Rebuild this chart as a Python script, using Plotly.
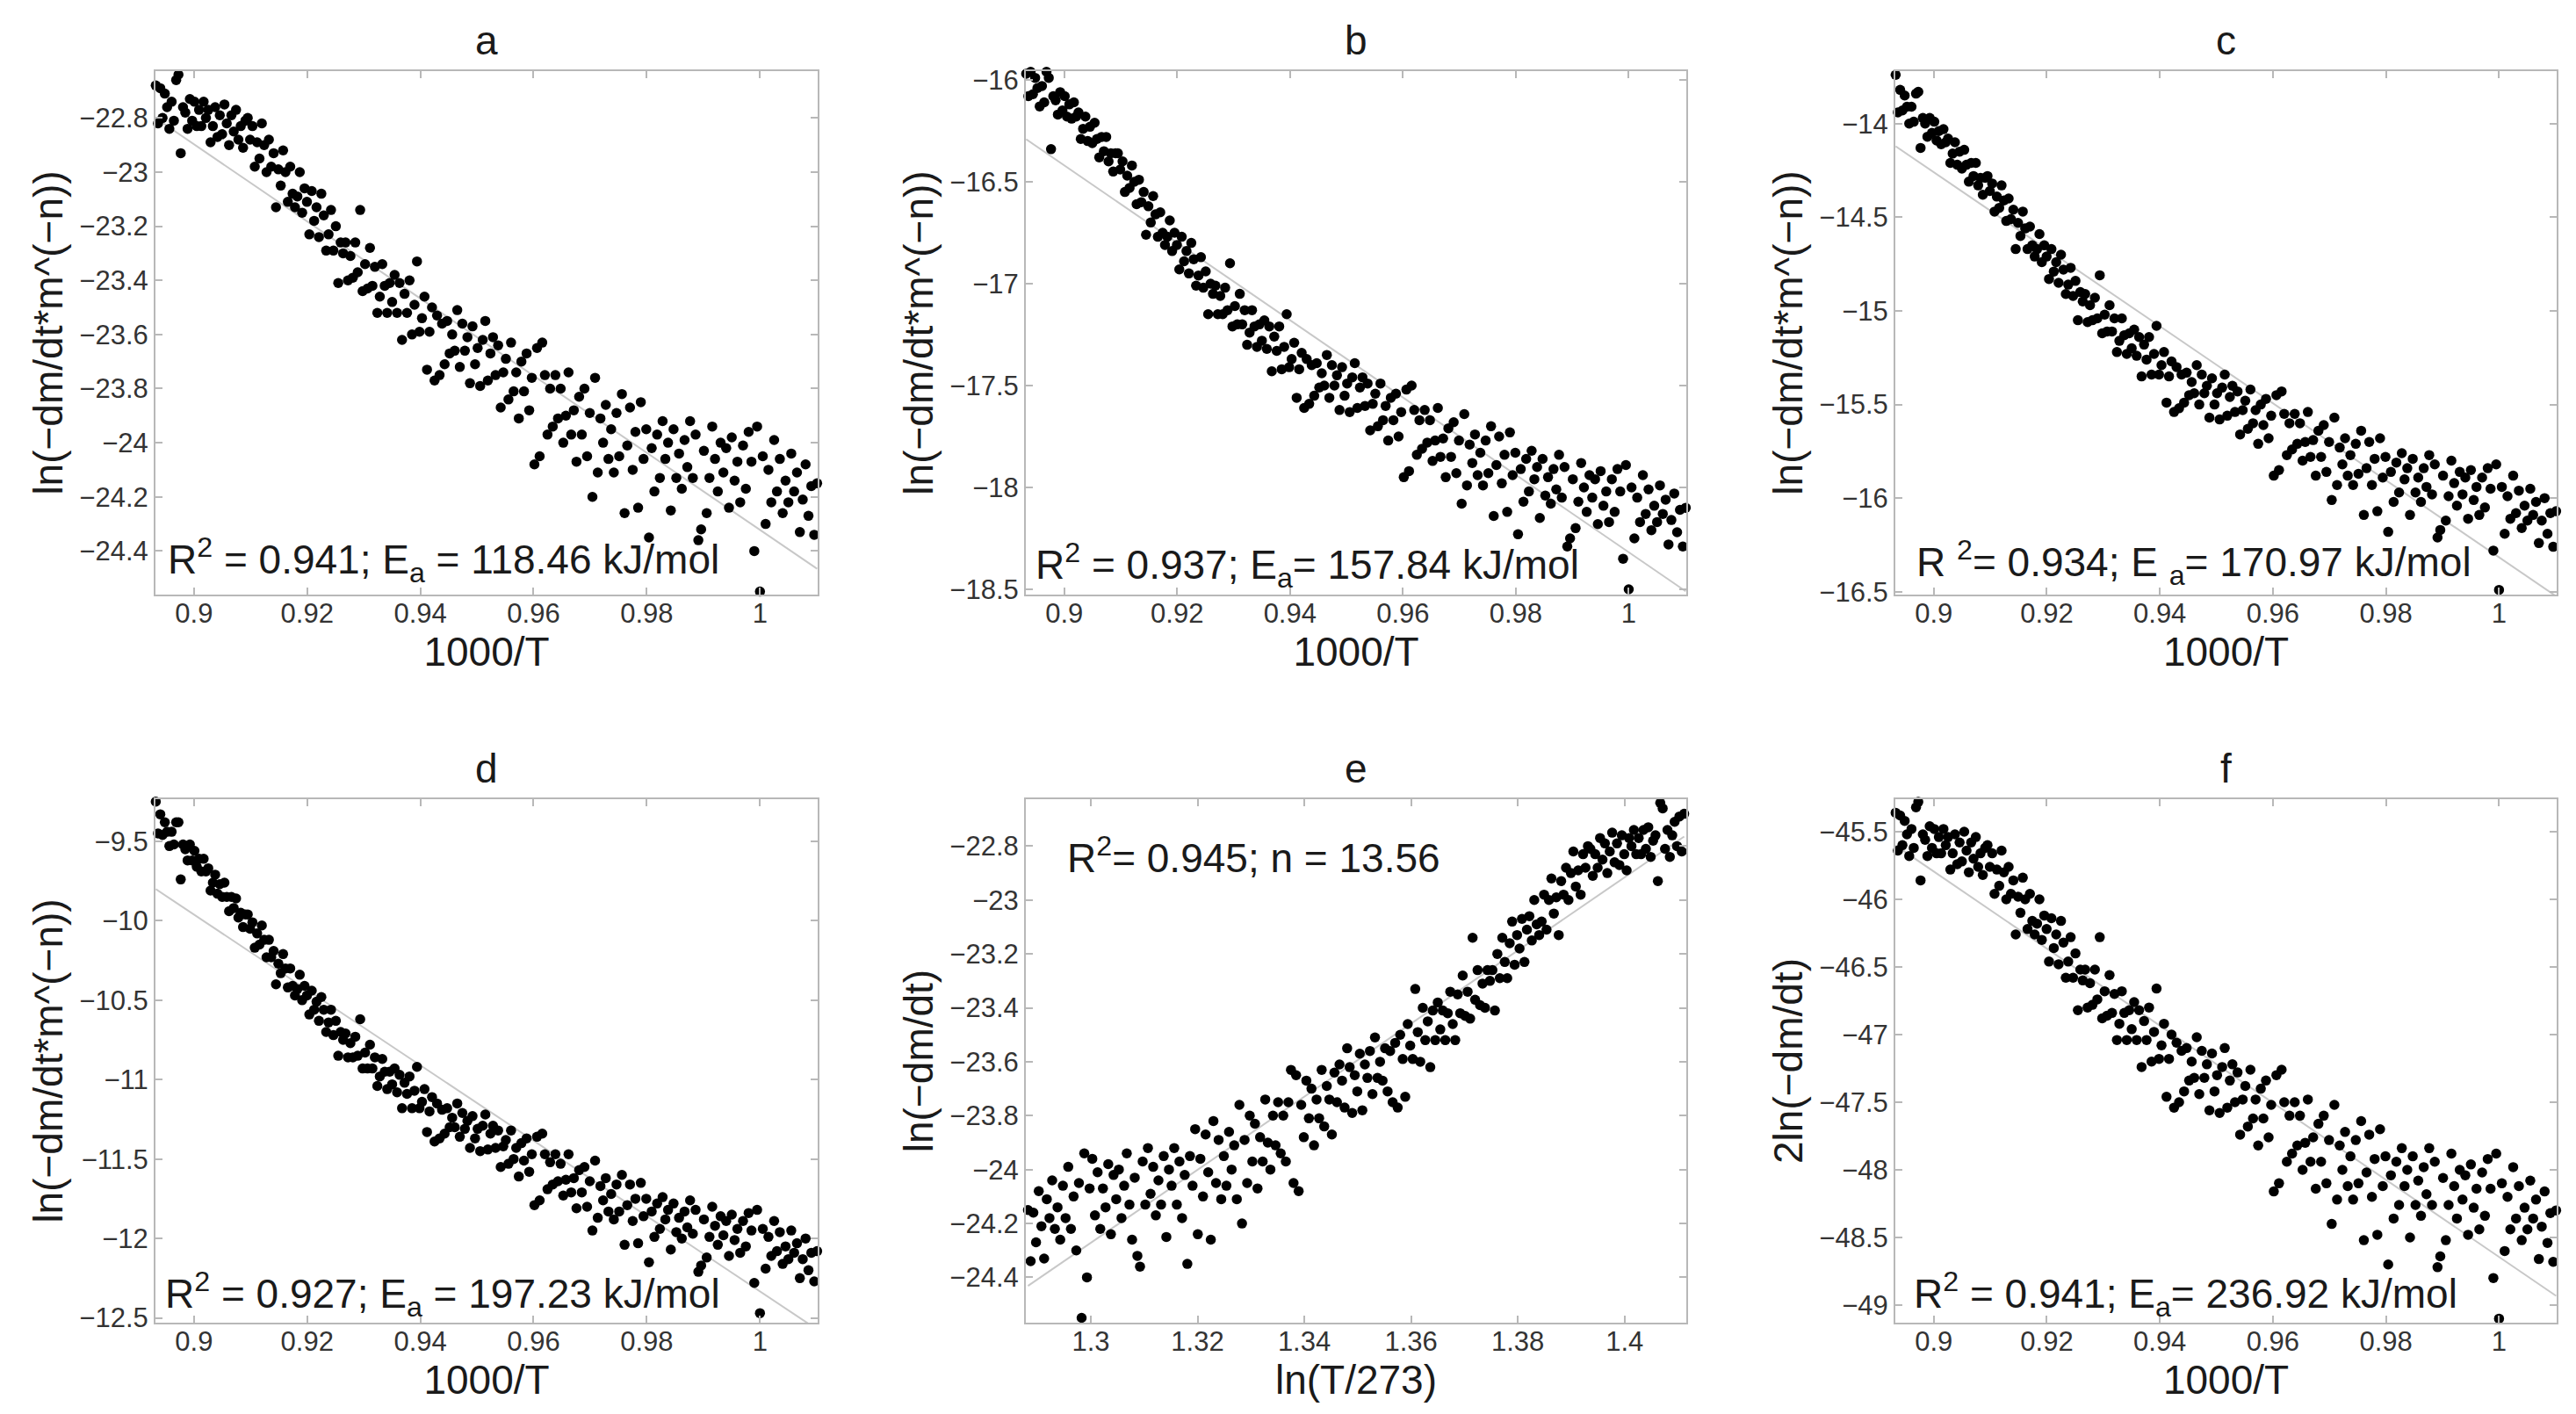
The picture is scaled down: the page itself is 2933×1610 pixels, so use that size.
import math
import plotly.graph_objects as go

# ---------------- data ----------------
temperature_K = [
    990.0, 990.5, 991.0, 991.5, 992.0, 992.5, 993.0, 993.5, 994.0, 994.5, 995.0, 995.5, 996.0, 996.5, 997.0, 997.5, 998.0, 998.5, 999.0, 999.5,
    1000.0, 1000.5, 1001.0, 1001.5, 1002.0, 1002.5, 1003.0, 1003.5, 1004.0, 1004.5, 1005.0, 1005.5, 1006.0, 1006.5, 1007.0, 1007.5, 1008.0, 1008.5, 1009.0, 1009.5,
    1010.0, 1010.5, 1011.0, 1011.5, 1012.0, 1012.5, 1013.0, 1013.5, 1014.0, 1014.5, 1015.0, 1015.5, 1016.0, 1016.5, 1017.0, 1017.5, 1018.0, 1018.5, 1019.0, 1019.5,
    1020.0, 1020.5, 1021.0, 1021.5, 1022.0, 1022.5, 1023.0, 1023.5, 1024.0, 1024.5, 1025.0, 1025.5, 1026.0, 1026.5, 1027.0, 1027.5, 1028.0, 1028.5, 1029.0, 1029.5,
    1030.0, 1030.5, 1031.0, 1031.5, 1032.0, 1032.5, 1033.0, 1033.5, 1034.0, 1034.5, 1035.0, 1035.5, 1036.0, 1036.5, 1037.0, 1037.5, 1038.0, 1038.5, 1039.0, 1039.5,
    1040.0, 1040.5, 1041.0, 1041.5, 1042.0, 1042.5, 1043.0, 1043.5, 1044.0, 1044.5, 1045.0, 1045.5, 1046.0, 1046.5, 1047.0, 1047.5, 1048.0, 1048.5, 1049.0, 1049.5,
    1050.0, 1050.5, 1051.0, 1051.5, 1052.0, 1052.5, 1053.0, 1053.5, 1054.0, 1054.5, 1055.0, 1055.5, 1056.0, 1056.5, 1057.0, 1057.5, 1058.0, 1058.5, 1059.0, 1059.5,
    1060.0, 1060.5, 1061.0, 1061.5, 1062.0, 1062.5, 1063.0, 1063.5, 1064.0, 1064.5, 1065.0, 1065.5, 1066.0, 1066.5, 1067.0, 1067.5, 1068.0, 1068.5, 1069.0, 1069.5,
    1070.0, 1070.5, 1071.0, 1071.5, 1072.0, 1072.5, 1073.0, 1073.5, 1074.0, 1074.5, 1075.0, 1075.5, 1076.0, 1076.5, 1077.0, 1077.5, 1078.0, 1078.5, 1079.0, 1079.5,
    1080.0, 1080.5, 1081.0, 1081.5, 1082.0, 1082.5, 1083.0, 1083.5, 1084.0, 1084.5, 1085.0, 1085.5, 1086.0, 1086.5, 1087.0, 1087.5, 1088.0, 1088.5, 1089.0, 1089.5,
    1090.0, 1090.5, 1091.0, 1091.5, 1092.0, 1092.5, 1093.0, 1093.5, 1094.0, 1094.5, 1095.0, 1095.5, 1096.0, 1096.5, 1097.0, 1097.5, 1098.0, 1098.5, 1099.0, 1099.5,
    1100.0, 1100.5, 1101.0, 1101.5, 1102.0, 1102.5, 1103.0, 1103.5, 1104.0, 1104.5, 1105.0, 1105.5, 1106.0, 1106.5, 1107.0, 1107.5, 1108.0, 1108.5, 1109.0, 1109.5,
    1110.0, 1110.5, 1111.0, 1111.5, 1112.0, 1112.5, 1113.0, 1113.5, 1114.0, 1114.5, 1115.0, 1115.5, 1116.0, 1116.5, 1117.0, 1117.5, 1118.0, 1118.5, 1119.0, 1119.5,
]

# ln(-dm/dt)  (panel a, also used by e and f)
ln_rate = [
    -24.15, -24.34, -24.16, -24.27, -24.08, -24.21, -24.33, -24.11, -24.18, -24.04, -24.22, -24.14, -24.26, -24.06, -24.18, -23.99, -24.22, -24.10, -24.30, -24.05,
    -24.55, -23.94, -24.40, -24.07, -23.96, -24.17, -24.01, -24.22, -24.07, -24.14, -23.98, -24.24, -24.02, -24.11, -24.00, -24.18, -24.06, -23.94, -24.13, -24.26,
    -24.03, -24.32, -24.36, -23.97, -24.13, -23.92, -24.09, -23.99, -24.17, -24.04, -24.13, -23.95, -24.25, -24.00, -24.06, -23.92, -24.13, -23.97, -24.18, -24.02,
    -24.35, -23.95, -24.06, -23.85, -24.24, -23.96, -24.10, -23.87, -24.01, -24.26, -23.82, -24.05, -23.89, -24.11, -23.95, -24.06, -23.86, -24.00, -23.91, -24.11,
    -23.76, -24.20, -23.89, -24.05, -23.80, -23.97, -23.83, -24.07, -23.88, -23.97, -23.74, -23.90, -24.00, -23.80, -23.91, -23.75, -23.94, -23.80, -23.97, -23.75,
    -23.63, -24.05, -23.65, -24.08, -23.76, -23.88, -23.67, -23.81, -23.70, -23.91, -23.74, -23.81, -23.63, -23.84, -23.69, -23.74, -23.87, -23.64, -23.75, -23.61,
    -23.67, -23.77, -23.55, -23.62, -23.79, -23.65, -23.71, -23.57, -23.78, -23.61, -23.66, -23.56, -23.72, -23.51, -23.66, -23.60, -23.67, -23.55, -23.71, -23.56,
    -23.75, -23.53, -23.77, -23.50, -23.59, -23.73, -23.46, -23.54, -23.59, -23.33, -23.49, -23.60, -23.40, -23.52, -23.45, -23.62, -23.41, -23.52, -23.38, -23.48,
    -23.41, -23.52, -23.42, -23.34, -23.46, -23.52, -23.35, -23.42, -23.28, -23.43, -23.34, -23.44, -23.14, -23.37, -23.26, -23.39, -23.31, -23.40, -23.26, -23.30,
    -23.26, -23.41, -23.20, -23.29, -23.14, -23.23, -23.29, -23.16, -23.08, -23.24, -23.13, -23.18, -23.07, -23.23, -23.11, -23.06, -23.15, -23.00, -23.09, -23.13,
    -23.08, -22.98, -23.11, -23.00, -22.92, -23.05, -22.99, -23.13, -22.93, -22.98, -22.88, -23.00, -22.90, -22.82, -22.95, -22.89, -22.98, -22.83, -22.88, -22.80,
    -22.81, -22.91, -22.83, -22.88, -22.77, -22.85, -22.79, -22.90, -22.82, -22.75, -22.86, -22.79, -22.87, -22.76, -22.83, -22.89, -22.77, -22.80, -22.74, -22.83,
    -22.77, -22.83, -22.74, -22.81, -22.73, -22.84, -22.78, -22.76, -22.93, -22.64, -22.66, -22.81, -22.74, -22.84, -22.76, -22.71, -22.80, -22.69, -22.82, -22.68,
]

# ln(-dm/dt * m^(-n)) for panel b
ln_b = [
    -18.10, -18.29, -18.11, -18.22, -18.03, -18.16, -18.28, -18.06, -18.13, -17.99, -18.17, -18.09, -18.21, -18.01, -18.13, -17.94, -18.17, -18.05, -18.25, -18.00,
    -18.50, -17.89, -18.35, -18.02, -17.91, -18.12, -17.96, -18.17, -18.02, -18.09, -17.92, -18.18, -17.96, -18.05, -17.94, -18.12, -18.00, -17.88, -18.07, -18.20,
    -17.96, -18.25, -18.29, -17.90, -18.05, -17.84, -18.01, -17.91, -18.08, -17.95, -18.04, -17.86, -18.15, -17.90, -17.96, -17.82, -18.02, -17.86, -18.07, -17.91,
    -18.23, -17.83, -17.94, -17.73, -18.12, -17.84, -17.98, -17.75, -17.89, -18.14, -17.70, -17.93, -17.77, -17.99, -17.83, -17.94, -17.74, -17.88, -17.79, -17.99,
    -17.64, -18.08, -17.77, -17.93, -17.68, -17.85, -17.71, -17.95, -17.76, -17.85, -17.61, -17.77, -17.87, -17.67, -17.78, -17.62, -17.81, -17.67, -17.84, -17.62,
    -17.50, -17.92, -17.52, -17.95, -17.63, -17.75, -17.54, -17.67, -17.56, -17.77, -17.60, -17.67, -17.49, -17.70, -17.54, -17.59, -17.72, -17.49, -17.60, -17.46,
    -17.51, -17.61, -17.39, -17.46, -17.63, -17.49, -17.55, -17.41, -17.62, -17.45, -17.50, -17.40, -17.56, -17.35, -17.50, -17.44, -17.51, -17.39, -17.55, -17.40,
    -17.59, -17.37, -17.61, -17.34, -17.42, -17.56, -17.29, -17.37, -17.41, -17.15, -17.31, -17.42, -17.21, -17.33, -17.26, -17.43, -17.21, -17.32, -17.18, -17.28,
    -17.20, -17.31, -17.21, -17.13, -17.24, -17.30, -17.13, -17.20, -17.05, -17.20, -17.11, -17.21, -16.90, -17.13, -17.02, -17.15, -17.06, -17.15, -17.01, -17.05,
    -17.00, -17.15, -16.94, -17.02, -16.87, -16.96, -17.01, -16.88, -16.80, -16.95, -16.84, -16.89, -16.77, -16.93, -16.81, -16.75, -16.84, -16.69, -16.77, -16.81,
    -16.75, -16.65, -16.77, -16.66, -16.57, -16.70, -16.62, -16.76, -16.55, -16.60, -16.49, -16.61, -16.50, -16.42, -16.53, -16.47, -16.55, -16.40, -16.44, -16.36,
    -16.36, -16.45, -16.36, -16.40, -16.28, -16.35, -16.28, -16.38, -16.29, -16.21, -16.31, -16.23, -16.30, -16.18, -16.24, -16.29, -16.16, -16.18, -16.11, -16.19,
    -16.12, -16.18, -16.08, -16.15, -16.06, -16.17, -16.10, -16.08, -16.34, -15.99, -15.96, -16.11, -16.03, -16.13, -16.04, -15.99, -16.07, -15.96, -16.08, -15.97,
]

# panel c
ln_c = [
    -16.07, -16.26, -16.08, -16.19, -16.00, -16.12, -16.24, -16.02, -16.09, -15.95, -16.12, -16.04, -16.16, -15.96, -16.08, -15.88, -16.11, -15.99, -16.19, -15.94,
    -16.49, -15.82, -16.28, -15.95, -15.84, -16.05, -15.89, -16.09, -15.94, -16.01, -15.85, -16.11, -15.89, -15.98, -15.86, -16.04, -15.92, -15.80, -15.99, -16.12,
    -15.88, -16.17, -16.21, -15.82, -15.98, -15.77, -15.94, -15.84, -16.02, -15.89, -15.97, -15.79, -16.09, -15.84, -15.90, -15.76, -15.97, -15.81, -16.02, -15.86,
    -16.18, -15.78, -15.89, -15.68, -16.07, -15.79, -15.93, -15.70, -15.84, -16.09, -15.64, -15.87, -15.71, -15.93, -15.77, -15.88, -15.68, -15.82, -15.73, -15.93,
    -15.57, -16.01, -15.70, -15.86, -15.61, -15.78, -15.64, -15.88, -15.69, -15.78, -15.54, -15.70, -15.80, -15.60, -15.71, -15.55, -15.74, -15.60, -15.77, -15.55,
    -15.43, -15.85, -15.45, -15.88, -15.56, -15.68, -15.47, -15.61, -15.50, -15.71, -15.53, -15.60, -15.42, -15.63, -15.48, -15.53, -15.66, -15.43, -15.54, -15.40,
    -15.46, -15.56, -15.34, -15.41, -15.58, -15.44, -15.50, -15.36, -15.57, -15.40, -15.44, -15.34, -15.50, -15.29, -15.44, -15.38, -15.45, -15.33, -15.49, -15.34,
    -15.52, -15.30, -15.54, -15.27, -15.35, -15.49, -15.22, -15.29, -15.34, -15.08, -15.23, -15.34, -15.14, -15.26, -15.18, -15.35, -15.14, -15.24, -15.10, -15.20,
    -15.12, -15.23, -15.13, -15.04, -15.16, -15.22, -15.04, -15.11, -14.97, -15.11, -15.02, -15.12, -14.81, -15.04, -14.93, -15.05, -14.97, -15.06, -14.91, -14.95,
    -14.90, -15.05, -14.84, -14.92, -14.77, -14.86, -14.91, -14.78, -14.70, -14.85, -14.74, -14.79, -14.67, -14.83, -14.71, -14.65, -14.74, -14.59, -14.67, -14.71,
    -14.65, -14.55, -14.67, -14.56, -14.47, -14.60, -14.53, -14.67, -14.46, -14.51, -14.40, -14.52, -14.41, -14.33, -14.45, -14.39, -14.47, -14.32, -14.36, -14.28,
    -14.29, -14.38, -14.29, -14.33, -14.21, -14.28, -14.21, -14.31, -14.22, -14.14, -14.24, -14.15, -14.22, -14.10, -14.16, -14.21, -14.08, -14.10, -14.03, -14.11,
    -14.04, -14.09, -13.99, -14.05, -13.97, -14.07, -14.00, -13.97, -14.13, -13.83, -13.84, -13.99, -13.91, -14.00, -13.91, -13.85, -13.93, -13.82, -13.94, -13.74,
]

# panel d
ln_d = [
    -12.08, -12.27, -12.09, -12.20, -12.00, -12.13, -12.25, -12.03, -12.09, -11.95, -12.13, -12.05, -12.16, -11.96, -12.08, -11.89, -12.11, -11.99, -12.19, -11.94,
    -12.47, -11.82, -12.28, -11.95, -11.84, -12.05, -11.89, -12.09, -11.94, -12.01, -11.85, -12.11, -11.89, -11.98, -11.86, -12.04, -11.92, -11.80, -11.99, -12.12,
    -11.88, -12.17, -12.21, -11.82, -11.97, -11.76, -11.93, -11.83, -12.00, -11.87, -11.96, -11.78, -12.07, -11.82, -11.88, -11.74, -11.94, -11.78, -11.99, -11.83,
    -12.15, -11.75, -11.86, -11.65, -12.03, -11.75, -11.89, -11.66, -11.79, -12.04, -11.60, -11.83, -11.66, -11.88, -11.72, -11.83, -11.62, -11.76, -11.67, -11.87,
    -11.51, -11.95, -11.64, -11.80, -11.55, -11.71, -11.57, -11.81, -11.62, -11.71, -11.47, -11.63, -11.73, -11.53, -11.64, -11.47, -11.66, -11.52, -11.69, -11.47,
    -11.34, -11.76, -11.36, -11.79, -11.47, -11.58, -11.37, -11.51, -11.40, -11.61, -11.43, -11.50, -11.32, -11.53, -11.38, -11.42, -11.55, -11.32, -11.43, -11.29,
    -11.34, -11.44, -11.22, -11.29, -11.45, -11.31, -11.37, -11.23, -11.43, -11.26, -11.31, -11.21, -11.36, -11.15, -11.30, -11.24, -11.30, -11.18, -11.34, -11.19,
    -11.37, -11.15, -11.39, -11.11, -11.20, -11.33, -11.06, -11.14, -11.18, -10.92, -11.07, -11.18, -10.98, -11.09, -11.02, -11.18, -10.97, -11.08, -10.93, -11.03,
    -10.95, -11.06, -10.95, -10.87, -10.98, -11.04, -10.86, -10.93, -10.78, -10.93, -10.83, -10.93, -10.62, -10.85, -10.73, -10.86, -10.77, -10.86, -10.71, -10.75,
    -10.70, -10.85, -10.63, -10.72, -10.56, -10.64, -10.70, -10.56, -10.48, -10.63, -10.51, -10.56, -10.44, -10.59, -10.47, -10.41, -10.50, -10.34, -10.43, -10.47,
    -10.41, -10.30, -10.42, -10.30, -10.21, -10.33, -10.27, -10.40, -10.19, -10.23, -10.12, -10.23, -10.12, -10.03, -10.15, -10.08, -10.17, -10.01, -10.05, -9.96,
    -9.96, -10.04, -9.95, -9.98, -9.86, -9.92, -9.85, -9.94, -9.85, -9.76, -9.85, -9.77, -9.83, -9.71, -9.76, -9.81, -9.67, -9.69, -9.61, -9.69,
    -9.61, -9.66, -9.56, -9.62, -9.52, -9.62, -9.55, -9.52, -9.74, -9.38, -9.38, -9.52, -9.44, -9.53, -9.44, -9.38, -9.46, -9.33, -9.45, -9.25,
]

panel_labels = ["a", "b", "c", "d", "e", "f"]
fit_slopes = [-14.248, -18.985, -20.564, -23.722, 13.56, -28.497]
fit_intercepts = [-10.074, 0.667, 4.248, 11.389, -41.90, -20.147]
annotation_texts = [
    "R<sup>2</sup> = 0.941; E<sub>a</sub> = 118.46 kJ/mol",
    "R<sup>2</sup> = 0.937; E<sub>a</sub>= 157.84 kJ/mol",
    "R <sup>2</sup>= 0.934; E <sub>a</sub>= 170.97 kJ/mol",
    "R<sup>2</sup> = 0.927; E<sub>a</sub> = 197.23 kJ/mol",
    "R<sup>2</sup>= 0.945; n = 13.56",
    "R<sup>2</sup> = 0.941; E<sub>a</sub>= 236.92 kJ/mol",
]
x_titles = ["1000/T", "1000/T", "1000/T", "1000/T", "ln(T/273)", "1000/T"]
y_titles = ["ln(−dm/dt*m^(−n))", "ln(−dm/dt*m^(−n))", "ln(−dm/dt*m^(−n))",
            "ln(−dm/dt*m^(−n))", "ln(−dm/dt)", "2ln(−dm/dt)"]
invT_ticks = [0.9, 0.92, 0.94, 0.96, 0.98, 1.0]
lnT_ticks = [1.3, 1.32, 1.34, 1.36, 1.38, 1.4]
y_ticks = [
    [-24.4, -24.2, -24.0, -23.8, -23.6, -23.4, -23.2, -23.0, -22.8],
    [-18.5, -18.0, -17.5, -17.0, -16.5, -16.0],
    [-16.5, -16.0, -15.5, -15.0, -14.5, -14.0],
    [-12.5, -12.0, -11.5, -11.0, -10.5, -10.0, -9.5],
    [-24.4, -24.2, -24.0, -23.8, -23.6, -23.4, -23.2, -23.0, -22.8],
    [-49.0, -48.5, -48.0, -47.5, -47.0, -46.5, -46.0, -45.5],
]
y_ranges = [[-24.561, -22.627], [-18.526, -15.957], [-16.515, -13.72],
            [-12.53, -9.235], [-24.568, -22.626], [-49.13, -45.26]]

# derived series (unit transforms named by the axis labels)
inv_T = [1000.0 / t for t in temperature_K]
ln_T_ratio = [math.log(t / 273.0) for t in temperature_K]
two_ln_rate = [2.0 * v for v in ln_rate]

xs = [inv_T, inv_T, inv_T, inv_T, ln_T_ratio, inv_T]
ys = [ln_rate, ln_b, ln_c, ln_d, ln_rate, two_ln_rate]

# ---------------- layout geometry ----------------
W, H = 2933, 1610
col_px = [(169, 923), (1160, 1912), (2150, 2903)]
row_px = [(73, 669), (902, 1498)]
PLOT_H = 596.0


def fmt(v):
    return ("%g" % v).replace("-", "−")


fig = go.Figure()
layout = dict(
    width=W, height=H, margin=dict(l=0, r=0, t=0, b=0),
    paper_bgcolor="white", plot_bgcolor="white", showlegend=False,
    font=dict(family="Liberation Sans, Arial, sans-serif", color="#262626"),
)
annotations = []
frame_col = "#b8b8b8"
title_font = dict(size=46, color="#1a1a1a")

for i in range(6):
    r, c = divmod(i, 3)
    xn = "x" if i == 0 else "x%d" % (i + 1)
    yn = "y" if i == 0 else "y%d" % (i + 1)
    xk = "xaxis" if i == 0 else "xaxis%d" % (i + 1)
    yk = "yaxis" if i == 0 else "yaxis%d" % (i + 1)
    xd = [col_px[c][0] / W, col_px[c][1] / W]
    yd = [1 - row_px[r][1] / H, 1 - row_px[r][0] / H]
    xdata, ydata = xs[i], ys[i]
    xmin, xmax = min(xdata), max(xdata)
    xticks = lnT_ticks if i == 4 else invT_ticks
    xr = [xmin - 0.0004, xmax + 0.0004] if i == 4 else [0.8932, 1.0102]

    # fitted line
    fx = [xmin, xmax]
    fy = [fit_intercepts[i] + fit_slopes[i] * v for v in fx]
    fig.add_trace(go.Scatter(x=fx, y=fy, mode="lines", xaxis=xn, yaxis=yn,
                             line=dict(color="#c8c8c8", width=2), hoverinfo="skip"))
    fig.add_trace(go.Scatter(x=xdata, y=ydata, mode="markers", xaxis=xn, yaxis=yn,
                             cliponaxis=False,
                             marker=dict(size=11.5, color="black", line=dict(width=0))))

    common = dict(showline=True, linecolor=frame_col, linewidth=2, mirror="ticks",
                  ticks="inside", ticklen=8, tickwidth=1.5, tickcolor=frame_col,
                  showgrid=False, zeroline=False, automargin=False,
                  tickfont=dict(size=31, color="#333333"))
    layout[xk] = dict(common, domain=xd, range=xr, anchor=yn,
                      tickvals=xticks, ticktext=[fmt(v) for v in xticks],
                      ticklabelstandoff=-7,
                      title=dict(text=x_titles[i], font=title_font, standoff=0))
    layout[yk] = dict(common, domain=yd, range=y_ranges[i], anchor=xn,
                      tickvals=y_ticks[i], ticktext=[fmt(v) for v in y_ticks[i]],
                      title=dict(text=y_titles[i], font=title_font, standoff=4))

    # panel title
    annotations.append(dict(text=panel_labels[i], xref=xn + " domain", yref=yn + " domain",
                            x=0.5, y=1 + 35 / PLOT_H, xanchor="center", yanchor="middle",
                            showarrow=False, font=title_font))

ann_pos = [(0.016, 0.067), (0.0125, 0.057), (0.029, 0.061), (0.012, 0.055), (0.06, 0.893), (0.025, 0.055)]
for i in range(6):
    xn = "x" if i == 0 else "x%d" % (i + 1)
    yn = "y" if i == 0 else "y%d" % (i + 1)
    annotations.append(dict(text=annotation_texts[i], xref=xn + " domain", yref=yn + " domain",
                            x=ann_pos[i][0], y=ann_pos[i][1], xanchor="left", yanchor="middle",
                            showarrow=False, font=title_font))

layout["annotations"] = annotations
fig.update_layout(**layout)
fig.write_html("out.html")
